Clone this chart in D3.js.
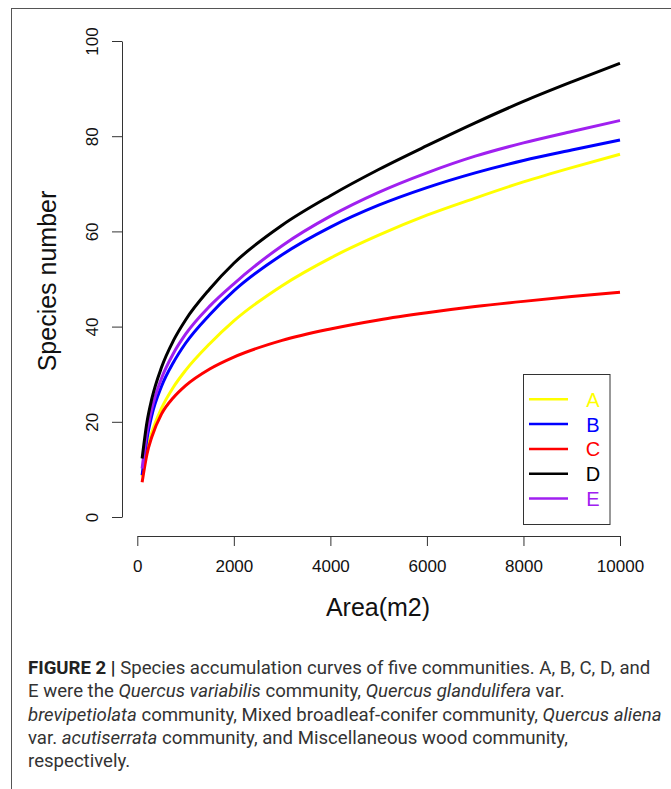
<!DOCTYPE html>
<html>
<head>
<meta charset="utf-8">
<script src="https://cdn.jsdelivr.net/npm/d3@7"></script>
<style>
  html, body { margin: 0; padding: 0; background: #fff; }
  svg { display: block; }
</style>
</head>
<body>
<svg id="chart" width="671" height="789"></svg>
<script>
// ---- data ----
const areas = [100, 200, 300, 500, 750, 1000, 1500, 2000, 3000, 4000, 5000, 6000, 7000, 8000, 9000, 10000];
const seriesA = [8.5, 14, 17.7, 22.8, 27.3, 30.8, 36.4, 41.2, 48.6, 54.4, 59.2, 63.4, 67.0, 70.4, 73.4, 76.2];
const seriesB = [8.8, 16.4, 21.3, 27.4, 32.5, 36.5, 42.5, 47.5, 55.1, 60.9, 65.5, 69.2, 72.3, 74.9, 77.1, 79.2];
const seriesC = [7.3, 13.2, 16.8, 21.6, 25.1, 27.6, 31.1, 33.6, 37.1, 39.5, 41.4, 42.9, 44.2, 45.3, 46.3, 47.2];
const seriesD = [12.3, 19.9, 24.8, 31.4, 37.1, 41.4, 47.9, 53.3, 61.3, 67.5, 73.0, 78.0, 82.8, 87.3, 91.4, 95.3];
const seriesE = [10.2, 17.8, 22.7, 29.1, 34.4, 38.4, 44.3, 49.0, 57.0, 63.2, 68.2, 72.3, 75.8, 78.6, 81.0, 83.3];
const seriesNames = ["A", "B", "C", "D", "E"];
const seriesColors = ["#FFFF00", "#0000FF", "#FF0000", "#000000", "#A020F0"];
const xTicks = [0, 2000, 4000, 6000, 8000, 10000];
const yTicks = [0, 20, 40, 60, 80, 100];
const xTitle = "Area(m2)";
const yTitle = "Species number";
const captionLines = [
  [["b", "FIGURE 2 | "], ["n", "Species accumulation curves of five communities. A, B, C, D, and"]],
  [["n", "E were the "], ["i", "Quercus variabilis"], ["n", " community, "], ["i", "Quercus glandulifera"], ["n", " var."]],
  [["i", "brevipetiolata"], ["n", " community, Mixed broadleaf-conifer community, "], ["i", "Quercus aliena"]],
  [["n", "var. "], ["i", "acutiserrata"], ["n", " community, and Miscellaneous wood community,"]],
  [["n", "respectively."]]
];

const allSeries = [seriesA, seriesB, seriesC, seriesD, seriesE];

const svg = d3.select("#chart");

// outer frame
svg.append("rect")
  .attr("x", 11.5).attr("y", 8.5)
  .attr("width", 670).attr("height", 800)
  .attr("fill", "none").attr("stroke", "#555").attr("stroke-width", 1);

const x = d3.scaleLinear().domain([0, 10000]).range([137.3, 620]);
const y = d3.scaleLinear().domain([0, 100]).range([517, 41]);

const axisFont = "'Liberation Sans', Arial, Helvetica, sans-serif";

// x axis
const gx = svg.append("g").attr("transform", "translate(0,536)")
  .call(d3.axisBottom(x).tickValues(xTicks).tickSize(10).tickSizeOuter(0).tickPadding(14).tickFormat(d3.format("d")));
gx.select(".domain").attr("stroke", "#333");
gx.selectAll(".tick line").attr("stroke", "#333");
gx.selectAll(".tick text").attr("font-family", axisFont).attr("font-size", 17).attr("fill", "#111");

// y axis
const gy = svg.append("g").attr("transform", "translate(122,0)")
  .call(d3.axisLeft(y).tickValues(yTicks).tickSize(10).tickSizeOuter(0).tickFormat(d3.format("d")));
gy.select(".domain").attr("stroke", "#333");
gy.selectAll(".tick line").attr("stroke", "#333");
gy.selectAll(".tick text")
  .attr("font-family", axisFont).attr("font-size", 17).attr("fill", "#111")
  .attr("x", null).attr("dy", null)
  .attr("text-anchor", "middle")
  .attr("transform", "translate(-24,0) rotate(-90)")
  .attr("y", 0);

// axis titles
svg.append("text")
  .attr("x", 378).attr("y", 616)
  .attr("text-anchor", "middle")
  .attr("font-family", axisFont).attr("font-size", 25).attr("fill", "#111")
  .text(xTitle);
svg.append("text")
  .attr("transform", "translate(56,281) rotate(-90)")
  .attr("text-anchor", "middle")
  .attr("font-family", axisFont).attr("font-size", 25).attr("fill", "#111")
  .text(yTitle);

// curves
const line = d3.line()
  .x((d, i) => x(areas[i]))
  .y(d => y(d))
  .curve(d3.curveMonotoneX);

const order = [0, 1, 2, 4, 3];
svg.append("g").selectAll("path")
  .data(order)
  .join("path")
  .attr("d", k => line(allSeries[k]))
  .attr("fill", "none")
  .attr("stroke", k => seriesColors[k])
  .attr("stroke-width", 3)
  .attr("stroke-linecap", "butt");

// legend
const lg = svg.append("g");
lg.append("rect")
  .attr("x", 523.5).attr("y", 374.5)
  .attr("width", 86.5).attr("height", 150)
  .attr("fill", "#fff").attr("stroke", "#333").attr("stroke-width", 1);
seriesNames.forEach((name, i) => {
  const yy = 399.3 + i * 24.8;
  lg.append("line")
    .attr("x1", 529).attr("x2", 568)
    .attr("y1", yy).attr("y2", yy)
    .attr("stroke", seriesColors[i]).attr("stroke-width", 2.5);
  lg.append("text")
    .attr("x", 593).attr("y", yy + 7.5)
    .attr("text-anchor", "middle")
    .attr("font-family", axisFont).attr("font-size", 20)
    .attr("fill", seriesColors[i])
    .text(name);
});

// caption
const cap = svg.append("g");
captionLines.forEach((parts, i) => {
  const t = cap.append("text")
    .attr("x", 28).attr("y", 674 + i * 23.3)
    .attr("font-family", "Roboto, 'Noto Sans', sans-serif")
    .attr("font-size", 18.6).attr("fill", "#333");
  parts.forEach(([style, str]) => {
    t.append("tspan")
      .attr("font-weight", style === "b" ? "bold" : "normal")
      .attr("font-style", style === "i" ? "italic" : "normal")
      .attr("fill", style === "b" ? "#222" : "#333")
      .text(str);
  });
});
</script>
</body>
</html>
